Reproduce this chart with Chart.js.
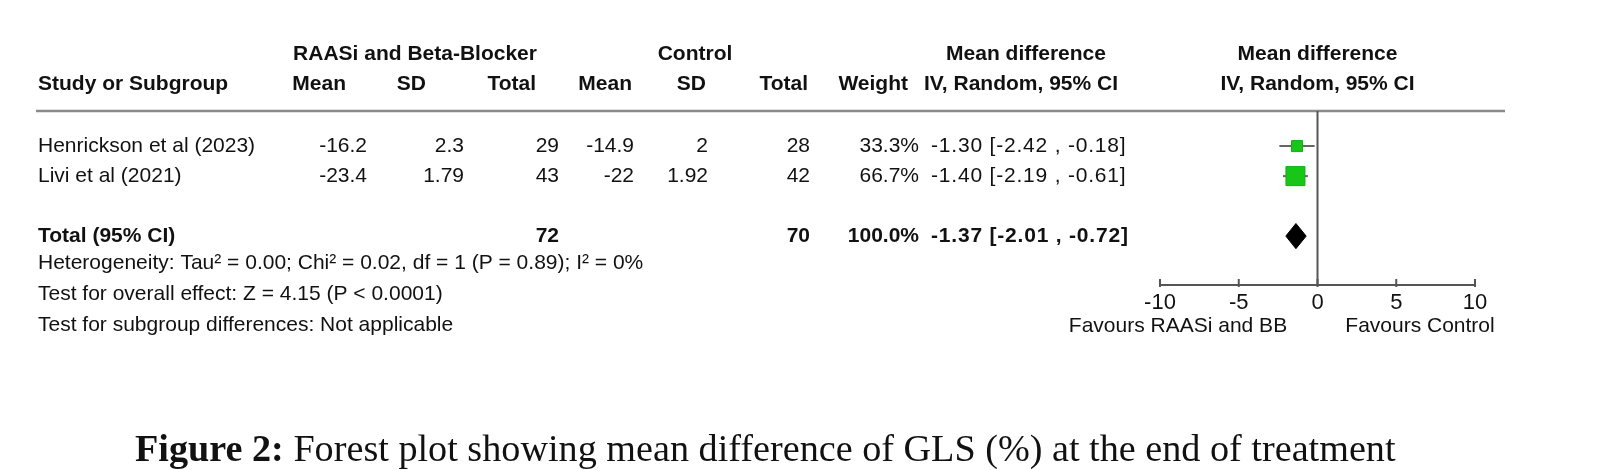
<!DOCTYPE html>
<html>
<head>
<meta charset="utf-8">
<script src="https://cdn.jsdelivr.net/npm/chart.js@4.4.0/dist/chart.umd.min.js"></script>
<style>
  html, body { margin: 0; padding: 0; background: #fff; }
</style>
</head>
<body>
<canvas id="forest" width="1599" height="470"></canvas>
<script>
// Datos del forest plot
const estudios = ['Henrickson et al (2023)', 'Livi et al (2021)'];
const mediaTrat = ['-16.2', '-23.4'];
const sdTrat = ['2.3', '1.79'];
const nTrat = [29, 43];
const mediaCtrl = ['-14.9', '-22'];
const sdCtrl = ['2', '1.92'];
const nCtrl = [28, 42];
const pesos = [33.3, 66.7];
const difMedia = [-1.30, -1.40];
const icBajo = [-2.42, -2.19];
const icAlto = [-0.18, -0.61];
const totalN = [72, 70];
const totalDif = [-1.37];
const totalBajo = [-2.01];
const totalAlto = [-0.72];
const ticksX = [-10, -5, 0, 5, 10];
const favorece = ['Favours RAASi and BB', 'Favours Control'];
const notas = [
    'Heterogeneity: Tau\u00b2 = 0.00; Chi\u00b2 = 0.02, df = 1 (P = 0.89); I\u00b2 = 0%',
    'Test for overall effect: Z = 4.15 (P < 0.0001)',
    'Test for subgroup differences: Not applicable'
];

// Estilos
const SANS = '"Liberation Sans", Arial, sans-serif';
const SERIF = '"Liberation Serif", "Times New Roman", serif';
const VERDE = '#17c617';
const ladoCaja = [11, 19];
const medioRombo = 0.42;
const filaTotal = 4;

const fmtIC = (m, lo, hi) => `${m.toFixed(2)} [${lo.toFixed(2)} , ${hi.toFixed(2)}]`;

const texto = (ctx, t, x, y, align, bold, size, fam) => {
    ctx.font = `${bold ? 'bold ' : ''}${size || 21}px ${fam || SANS}`;
    ctx.textAlign = align || 'left';
    ctx.fillText(t, x, y);
};

// Plugin que dibuja la tabla, linea cero y anotaciones
const tablaPlugin = {
    id: 'tabla',
    beforeDatasetsDraw(chart) {
        const { ctx, scales: { x }, chartArea } = chart;
        ctx.save();
        // linea de encabezado
        ctx.strokeStyle = '#8a8a8a';
        ctx.lineWidth = 2.5;
        ctx.beginPath();
        ctx.moveTo(36, chartArea.top);
        ctx.lineTo(1505, chartArea.top);
        ctx.stroke();
        // linea de no efecto
        const x0 = x.getPixelForValue(0);
        ctx.strokeStyle = '#555';
        ctx.lineWidth = 2;
        ctx.beginPath();
        ctx.moveTo(x0, chartArea.top);
        ctx.lineTo(x0, chartArea.bottom);
        ctx.stroke();
        // marcas del eje hacia arriba
        ticksX.forEach(v => {
            const px = x.getPixelForValue(v);
            ctx.beginPath();
            ctx.moveTo(px, chartArea.bottom - 6);
            ctx.lineTo(px, chartArea.bottom + 2);
            ctx.stroke();
        });
        ctx.restore();
    },
    afterDraw(chart) {
        const { ctx, scales: { x, y } } = chart;
        ctx.save();
        ctx.fillStyle = '#111';
        ctx.textBaseline = 'middle';

        // encabezados
        const h1 = 54, h2 = 84;
        texto(ctx, 'RAASi and Beta-Blocker', 415, h1, 'center', true);
        texto(ctx, 'Control', 695, h1, 'center', true);
        texto(ctx, 'Mean difference', 1026, h1, 'center', true);
        texto(ctx, 'Mean difference', x.getPixelForValue(0), h1, 'center', true);
        texto(ctx, 'Study or Subgroup', 38, h2, 'left', true);
        texto(ctx, 'Mean', 346, h2, 'right', true);
        texto(ctx, 'SD', 426, h2, 'right', true);
        texto(ctx, 'Total', 536, h2, 'right', true);
        texto(ctx, 'Mean', 632, h2, 'right', true);
        texto(ctx, 'SD', 706, h2, 'right', true);
        texto(ctx, 'Total', 808, h2, 'right', true);
        texto(ctx, 'Weight', 908, h2, 'right', true);
        texto(ctx, 'IV, Random, 95% CI', 1021, h2, 'center', true);
        texto(ctx, 'IV, Random, 95% CI', x.getPixelForValue(0), h2, 'center', true);

        // filas de estudios
        estudios.forEach((nombre, i) => {
            const py = y.getPixelForValue(i + 1);
            texto(ctx, nombre, 38, py, 'left');
            texto(ctx, mediaTrat[i], 367, py, 'right');
            texto(ctx, sdTrat[i], 464, py, 'right');
            texto(ctx, String(nTrat[i]), 559, py, 'right');
            texto(ctx, mediaCtrl[i], 634, py, 'right');
            texto(ctx, sdCtrl[i], 708, py, 'right');
            texto(ctx, String(nCtrl[i]), 810, py, 'right');
            texto(ctx, pesos[i].toFixed(1) + '%', 919, py, 'right');
            ctx.letterSpacing = '0.8px';
            texto(ctx, fmtIC(difMedia[i], icBajo[i], icAlto[i]), 931, py, 'left');
            ctx.letterSpacing = '0px';
        });

        // fila total
        const pt = y.getPixelForValue(filaTotal);
        const pesoTotal = pesos.reduce((a, b) => a + b, 0);
        texto(ctx, 'Total (95% CI)', 38, pt, 'left', true);
        texto(ctx, String(totalN[0]), 559, pt, 'right', true);
        texto(ctx, String(totalN[1]), 810, pt, 'right', true);
        texto(ctx, pesoTotal.toFixed(1) + '%', 919, pt, 'right', true);
        ctx.letterSpacing = '0.8px';
        texto(ctx, fmtIC(totalDif[0], totalBajo[0], totalAlto[0]), 931, pt, 'left', true);
        ctx.letterSpacing = '0px';

        // notas
        notas.forEach((n, i) => texto(ctx, n, 38, 263 + i * 31, 'left', false, 21));

        // etiquetas de favorece
        texto(ctx, favorece[0], 1178, 326, 'center');
        texto(ctx, favorece[1], 1420, 326, 'center');

        // pie de figura
        ctx.textBaseline = 'alphabetic';
        ctx.font = `bold 38.2px ${SERIF}`;
        ctx.textAlign = 'left';
        const parte1 = 'Figure 2:';
        ctx.fillText(parte1, 135, 461);
        const w1 = ctx.measureText(parte1).width;
        ctx.font = `38.2px ${SERIF}`;
        ctx.fillText(' Forest plot showing mean difference of GLS (%) at the end of treatment', 135 + w1, 461);

        ctx.restore();
    }
};

const datasets = [
    {
        type: 'scatter',
        data: difMedia.map((v, i) => ({ x: v, y: i + 1 })),
        pointStyle: 'rect',
        pointRadius: ladoCaja.map(l => l / Math.SQRT2),
        backgroundColor: VERDE,
        borderColor: '#10b010',
        borderWidth: 1,
        order: 0
    },
    {
        type: 'line',
        data: [
            { x: totalBajo[0], y: filaTotal },
            { x: totalDif[0], y: filaTotal - medioRombo },
            { x: totalAlto[0], y: filaTotal },
            { x: totalDif[0], y: filaTotal + medioRombo },
            { x: totalBajo[0], y: filaTotal }
        ],
        borderColor: '#000',
        backgroundColor: '#000',
        borderWidth: 1,
        pointRadius: 0,
        tension: 0,
        fill: 'shape',
        order: 0
    },
    ...estudios.map((_, i) => ({
        type: 'line',
        data: [{ x: icBajo[i], y: i + 1 }, { x: icAlto[i], y: i + 1 }],
        borderColor: '#666',
        borderWidth: 2,
        pointRadius: 0,
        order: 1
    }))
];

new Chart(document.getElementById('forest'), {
    type: 'scatter',
    data: { datasets },
    options: {
        responsive: false,
        animation: false,
        layout: { padding: { left: 1160, right: 124, top: 111, bottom: 155 } },
        plugins: { legend: { display: false }, tooltip: { enabled: false } },
        scales: {
            x: {
                type: 'linear',
                min: -10,
                max: 10,
                afterBuildTicks: s => { s.ticks = ticksX.map(v => ({ value: v })); },
                afterFit: s => { s.height = 30; },
                grid: { display: false, drawTicks: false },
                border: { display: true, color: '#555', width: 2 },
                ticks: { color: '#111', font: { family: SANS, size: 22 }, padding: 5, maxRotation: 0 }
            },
            y: { type: 'linear', display: false, reverse: true, min: -0.17, max: 5.63 }
        }
    },
    plugins: [tablaPlugin]
});
</script>
</body>
</html>
